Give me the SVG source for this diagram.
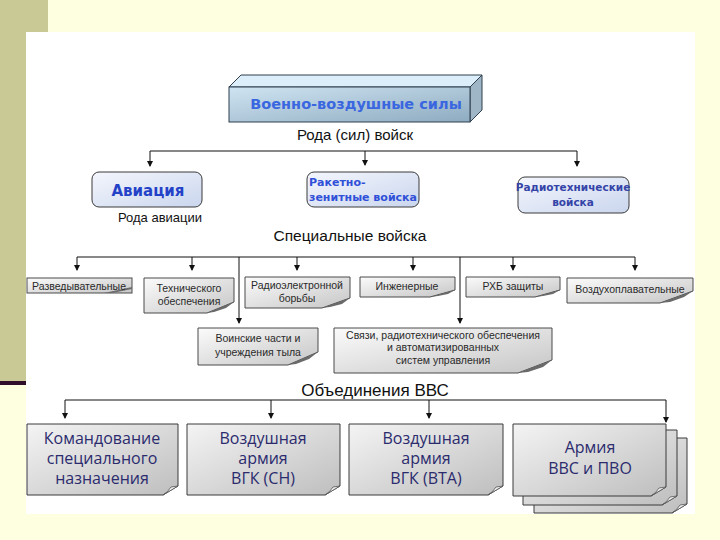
<svg xmlns="http://www.w3.org/2000/svg" width="720" height="540" viewBox="0 0 720 540">
<defs>
<linearGradient id="gTop" x1="0" y1="0" x2="1" y2="1"><stop offset="0" stop-color="#CFE4F2"/><stop offset="1" stop-color="#8EABC0"/></linearGradient>
<linearGradient id="gRound" x1="0" y1="0" x2="1" y2="1"><stop offset="0" stop-color="#F4F6FC"/><stop offset="1" stop-color="#CAD6EE"/></linearGradient>
<linearGradient id="gNote" x1="0" y1="0" x2="1" y2="1"><stop offset="0" stop-color="#FBFBFB"/><stop offset="1" stop-color="#C6C6C6"/></linearGradient>
<linearGradient id="gBig" x1="0" y1="0" x2="1" y2="1"><stop offset="0" stop-color="#F4F4F4"/><stop offset="1" stop-color="#BEBEBE"/></linearGradient>
<marker id="arr" markerWidth="6" markerHeight="6" refX="5" refY="3" orient="auto" markerUnits="userSpaceOnUse"><path d="M0,0 L6,3 L0,6 Z" fill="#111"/></marker>
<style>
.hd{font-family:"Liberation Sans",Arial,sans-serif;fill:#111;text-anchor:middle}
.bl{font-family:"DejaVu Sans",sans-serif;font-weight:bold;text-anchor:middle}
.sm{font-family:"Liberation Sans",Arial,sans-serif;font-size:10.5px;fill:#2A2A2A;text-anchor:middle}
.bg{font-family:"Open Sans","Noto Sans",sans-serif;font-size:16px;fill:#2B2B6E;text-anchor:middle}
.note{fill:url(#gNote);stroke:#4A4A4A;stroke-width:1}
.big{fill:url(#gBig);stroke:#3A3A3A;stroke-width:1}
.fold{fill:#6A6A6A}
.curl{fill:#F2F2F2;stroke:#555;stroke-width:0.8}
.rnd{fill:url(#gRound);stroke:#3A3A3A;stroke-width:1}
.cn{stroke:#111;stroke-width:1;fill:none}
</style>
</defs>
<rect x="0" y="0" width="720" height="540" fill="#FEFEE0"/>
<rect x="0" y="0" width="48" height="381" fill="#C9C995"/>
<rect x="0" y="381" width="26" height="4" fill="#2E0E2A"/>
<rect x="26" y="32" width="669" height="482" fill="#FFFFFF"/>

<g id="connectors">
<path class="cn" d="M150,151 H577"/>
<path class="cn" d="M150,151 V166" marker-end="url(#arr)"/>
<path class="cn" d="M365,151 V165" marker-end="url(#arr)"/>
<path class="cn" d="M577,151 V166" marker-end="url(#arr)"/>
<path class="cn" d="M77,257 H635"/>
<path class="cn" d="M77,257 V270" marker-end="url(#arr)"/>
<path class="cn" d="M192,257 V270" marker-end="url(#arr)"/>
<path class="cn" d="M297,257 V270" marker-end="url(#arr)"/>
<path class="cn" d="M413,257 V270" marker-end="url(#arr)"/>
<path class="cn" d="M513,257 V270" marker-end="url(#arr)"/>
<path class="cn" d="M635,257 V270" marker-end="url(#arr)"/>
<path class="cn" d="M239,257 V323" marker-end="url(#arr)"/>
<path class="cn" d="M460,257 V323" marker-end="url(#arr)"/>
<path class="cn" d="M65,400 H666"/>
<path class="cn" d="M65,400 V418" marker-end="url(#arr)"/>
<path class="cn" d="M271,400 V418" marker-end="url(#arr)"/>
<path class="cn" d="M429,400 V418" marker-end="url(#arr)"/>
<path class="cn" d="M666,400 V422" marker-end="url(#arr)"/>
</g>

<g id="n-vvs">
<polygon points="229,87 241,75 482,75 470,87" fill="#DCEEF9" stroke="#2F3F4F"/>
<polygon points="470,87 482,75 482,110 470,122" fill="#9EB6C6" stroke="#2F3F4F"/>
<rect x="229" y="87" width="241" height="35" fill="url(#gTop)" stroke="#2F3F4F"/>
<text class="bl" x="356" y="109" font-size="14.5" style="fill:#3A66E0">Военно-воздушные силы</text>
</g>
<text class="hd" x="355" y="140" font-size="15">Рода (сил) войск</text>

<g id="n-avia">
<rect class="rnd" x="92" y="172" width="110" height="35" rx="7"/>
<text class="bl" x="148" y="196" font-size="15" style="fill:#2442C8">Авиация</text>
</g>
<text class="hd" x="160" y="222" font-size="13">Рода авиации</text>

<g id="n-rzv">
<rect class="rnd" x="307" y="172" width="112" height="35" rx="7"/>
<text class="bl" x="309" y="186" font-size="11" style="text-anchor:start;fill:#3050D8">Ракетно-</text>
<text class="bl" x="309" y="201" font-size="11" style="text-anchor:start;fill:#3050D8">зенитные войска</text>
</g>

<g id="n-rtv">
<rect class="rnd" x="518" y="177" width="111" height="36" rx="7"/>
<text class="bl" x="573" y="191" font-size="10.5" style="fill:#3444A8">Радиотехнические</text>
<text class="bl" x="573" y="206" font-size="10.5" style="fill:#3444A8">войска</text>
</g>

<text class="hd" x="350" y="241" font-size="15.5">Специальные войска</text>

<g id="n-razv">
<rect class="note" x="27" y="278" width="105" height="15"/>
<polygon class="fold" points="104,293 132,287 132,289 112,293"/>
<text class="sm" x="79" y="290">Разведывательные</text>
</g>
<g id="n-tech">
<path class="note" d="M144,278 H234 V302 L207,313 H144 Z"/>
<polygon class="fold" points="207,313 234,302 226,308 214,312"/>
<text class="sm" x="189" y="292">Технического</text>
<text class="sm" x="189" y="305">обеспечения</text>
</g>
<g id="n-reb">
<path class="note" d="M245,277 H350 V298 L322,308 H245 Z"/>
<polygon class="fold" points="322,308 350,298 342,304 330,307"/>
<text class="sm" x="297" y="289">Радиоэлектронной</text>
<text class="sm" x="297" y="302">борьбы</text>
</g>
<g id="n-ing">
<path class="note" d="M360,277 H455 V290 L430,297 H360 Z"/>
<polygon class="fold" points="430,297 455,290 448,294 438,296"/>
<text class="sm" x="407" y="290">Инженерные</text>
</g>
<g id="n-rhb">
<path class="note" d="M466,277 H560 V290 L535,297 H466 Z"/>
<polygon class="fold" points="535,297 560,290 553,294 543,296"/>
<text class="sm" x="513" y="290">РХБ защиты</text>
</g>
<g id="n-vozd">
<path class="note" d="M567,278 H693 V291 L660,303 H567 Z"/>
<polygon class="fold" points="660,303 693,291 684,297 670,302"/>
<text class="sm" x="630" y="293">Воздухоплавательные</text>
</g>
<g id="n-tyl">
<path class="note" d="M198,328 H318 V352 L288,365 H198 Z"/>
<polygon class="fold" points="288,365 318,352 309,359 296,364"/>
<text class="sm" x="258" y="342">Воинские части и</text>
<text class="sm" x="258" y="356">учреждения тыла</text>
</g>
<g id="n-svyaz">
<path class="note" d="M334,328 H552 V360 L518,373 H334 Z"/>
<polygon class="fold" points="518,373 552,360 543,367 528,372"/>
<text class="sm" x="443" y="339">Связи, радиотехнического обеспечения</text>
<text class="sm" x="443" y="351">и автоматизированных</text>
<text class="sm" x="443" y="364">систем управления</text>
</g>

<text class="hd" x="375" y="396" font-size="17">Объединения ВВС</text>

<g id="n-ksn">
<path class="big" d="M27,424 H178 V486 L163,495 H27 Z"/>
<path class="curl" d="M163,495 L178,486 L171,487 Q168,492 163,495 Z"/>
<text class="bg" x="102" y="444">Командование</text>
<text class="bg" x="102" y="464">специального</text>
<text class="bg" x="102" y="484">назначения</text>
</g>
<g id="n-vasn">
<path class="big" d="M187,424 H340 V486 L325,495 H187 Z"/>
<path class="curl" d="M325,495 L340,486 L333,487 Q330,492 325,495 Z"/>
<text class="bg" x="263" y="444">Воздушная</text>
<text class="bg" x="263" y="464">армия</text>
<text class="bg" x="263" y="484">ВГК (СН)</text>
</g>
<g id="n-vavta">
<path class="big" d="M349,424 H503 V486 L488,495 H349 Z"/>
<path class="curl" d="M488,495 L503,486 L496,487 Q493,492 488,495 Z"/>
<text class="bg" x="426" y="444">Воздушная</text>
<text class="bg" x="426" y="464">армия</text>
<text class="bg" x="426" y="484">ВГК (ВТА)</text>
</g>
<g id="n-armiya">
<path class="big" d="M534,438 H687 V504 L672,513 H534 Z"/>
<path class="curl" d="M672,513 L687,504 L680,505 Q677,510 672,513 Z"/>
<path class="big" d="M523,430 H677 V496 L662,505 H523 Z"/>
<path class="curl" d="M662,505 L677,496 L670,497 Q667,502 662,505 Z"/>
<path class="big" d="M513,424 H666 V487 L651,496 H513 Z"/>
<path class="curl" d="M651,496 L666,487 L659,488 Q656,493 651,496 Z"/>
<text class="bg" x="590" y="453">Армия</text>
<text class="bg" x="590" y="474">ВВС и ПВО</text>
</g>
</svg>
